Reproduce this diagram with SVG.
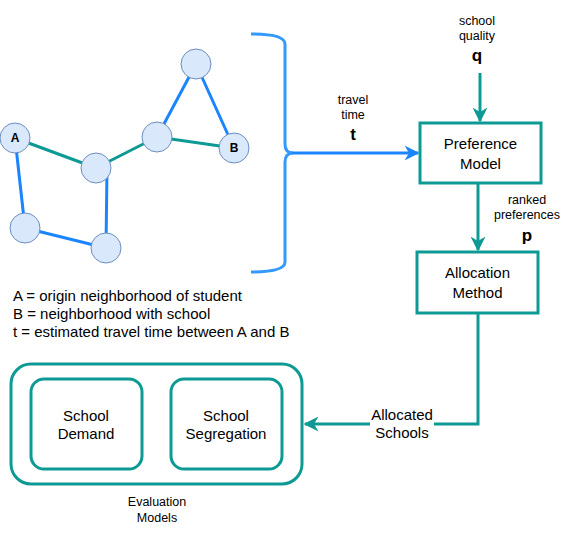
<svg xmlns="http://www.w3.org/2000/svg" width="563" height="545" viewBox="0 0 563 545">
<defs>
<style>
text{font-family:"Liberation Sans",Arial,sans-serif;fill:#000}
.c{fill:#dae8fc;stroke:#6c8ebf;stroke-width:1}
.bl{stroke:#1a85ff;stroke-width:3;fill:none}
.tl{stroke:#0e9a94;stroke-width:3;fill:none}
.box{fill:#fff;stroke:#0e9a94;stroke-width:3}
.t15{font-size:15px;text-anchor:middle}
.t12{font-size:12.5px;text-anchor:middle}
.b16{font-size:17px;font-weight:bold;text-anchor:middle}
.lbl{font-size:12px;font-weight:bold;text-anchor:middle}
</style>
<marker id="at" viewBox="0 0 10 10" refX="9" refY="5" markerWidth="5" markerHeight="5" orient="auto" markerUnits="strokeWidth"><path d="M0,0 L10,5 L0,10 L3,5 Z" fill="#0e9a94"/></marker>
<marker id="ab" viewBox="0 0 10 10" refX="9" refY="5" markerWidth="5" markerHeight="5" orient="auto" markerUnits="strokeWidth"><path d="M0,0 L10,5 L0,10 L3,5 Z" fill="#1a85ff"/></marker>
</defs>
<rect width="563" height="545" fill="#fff"/>
<g id="connectors">
<line class="tl" x1="15" y1="138" x2="96" y2="168"/>
<line class="tl" x1="96" y1="168" x2="157" y2="137"/>
<line class="tl" x1="157" y1="137" x2="234" y2="148"/>
<line class="bl" x1="15" y1="138" x2="25" y2="228"/>
<line class="bl" x1="25" y1="228" x2="106" y2="248"/>
<line class="bl" x1="106" y1="248" x2="107" y2="168"/>
<line class="bl" x1="157" y1="137" x2="196" y2="64"/>
<line class="bl" x1="196" y1="64" x2="234" y2="148"/>
<path d="M251,34 Q285,34 285,44 L285,144 Q285,153 293,153 Q285,153 285,162 L285,262 Q285,272 251,272" stroke="#3399ff" stroke-width="3" fill="none"/>
<line class="bl" x1="292" y1="153" x2="418" y2="153" marker-end="url(#ab)"/>
<line class="tl" x1="480" y1="73" x2="480" y2="121" marker-end="url(#at)"/>
<line class="tl" x1="478" y1="183" x2="478" y2="250" marker-end="url(#at)"/>
<path class="tl" d="M478,313 L478,424 L305,424" marker-end="url(#at)"/>
</g>
<g id="graph">
<circle class="c" cx="15" cy="138" r="15"/>
<text class="lbl" x="15" y="142">A</text>
<circle class="c" cx="196" cy="64" r="15"/>
<circle class="c" cx="157" cy="137" r="15"/>
<circle class="c" cx="234" cy="148" r="15"/>
<text class="lbl" x="234" y="152">B</text>
<circle class="c" cx="96" cy="168" r="15"/>
<circle class="c" cx="25" cy="228" r="15"/>
<circle class="c" cx="106" cy="248" r="15"/>
</g>
<g id="travel-label">
<text class="t12" x="353" y="104">travel</text>
<text class="t12" x="353" y="119">time</text>
<text class="b16" x="353" y="140">t</text>
</g>
<g id="quality-label">
<text class="t12" x="477" y="25">school</text>
<text class="t12" x="477" y="40">quality</text>
<text class="b16" x="477" y="61">q</text>
</g>
<g id="preference-model">
<rect class="box" x="420" y="123" width="121" height="60"/>
<text class="t15" x="480.5" y="149">Preference</text>
<text class="t15" x="480.5" y="169">Model</text>
</g>
<g id="ranked-label">
<text class="t12" x="527" y="204">ranked</text>
<text class="t12" x="527" y="219">preferences</text>
<text class="b16" x="527" y="241">p</text>
</g>
<g id="allocation-method">
<rect class="box" x="417" y="252" width="121" height="61"/>
<text class="t15" x="477.5" y="278">Allocation</text>
<text class="t15" x="477.5" y="298">Method</text>
</g>
<g id="allocated-label">
<rect x="370" y="405" width="64" height="36" fill="#fff"/>
<text class="t15" x="402" y="420">Allocated</text>
<text class="t15" x="402" y="438">Schools</text>
</g>
<g id="legend">
<text font-size="15" x="13" y="301">A = origin neighborhood of student</text>
<text font-size="15" x="13" y="319">B = neighborhood with school</text>
<text font-size="15" x="13" y="337">t = estimated travel time between A and B</text>
</g>
<g id="evaluation-models">
<rect class="box" x="11" y="364" width="291" height="120" rx="20"/>
<text class="t12" x="157" y="506">Evaluation</text>
<text class="t12" x="157" y="522">Models</text>
</g>
<g id="school-demand">
<rect class="box" x="31" y="379" width="111" height="90" rx="13"/>
<text class="t15" x="86" y="421">School</text>
<text class="t15" x="86" y="439">Demand</text>
</g>
<g id="school-segregation">
<rect class="box" x="171" y="379" width="111" height="90" rx="13"/>
<text class="t15" x="226" y="421">School</text>
<text class="t15" x="226" y="439">Segregation</text>
</g>
</svg>
